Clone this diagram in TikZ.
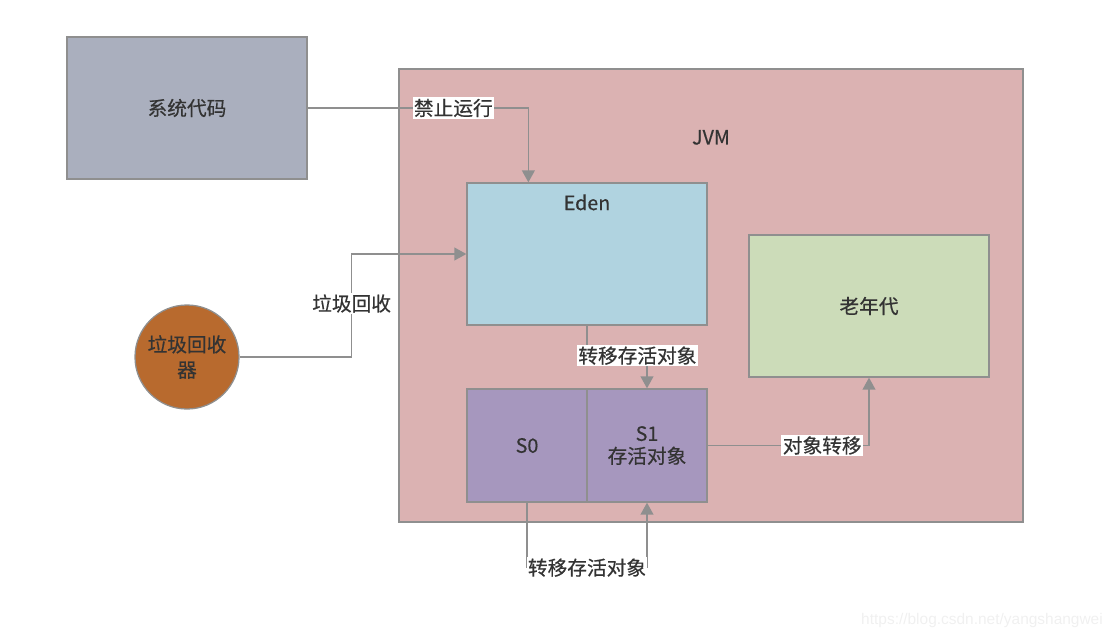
\documentclass[tikz,border=0pt]{standalone}
\usepackage{fontspec}
\setmainfont{Noto Sans CJK SC}[FakeBold=0.5]
\newfontfamily\wmfont{Liberation Sans}
\usepackage{tikz}
\usetikzlibrary{arrows.meta,positioning}
\definecolor{jvmred}{HTML}{DBB2B2}
\definecolor{sysgray}{HTML}{AAAFBE}
\definecolor{edenblue}{HTML}{B0D3E0}
\definecolor{oldgreen}{HTML}{CCDCB9}
\definecolor{survpurple}{HTML}{A697BE}
\definecolor{gcorange}{HTML}{B86A2E}
\definecolor{edgegray}{HTML}{8F8F8F}
\definecolor{txtgray}{HTML}{333333}

\begin{document}
\begin{tikzpicture}[x=0.25mm,y=-0.25mm,
  obj/.style={draw=edgegray,line width=0.9pt,align=center,text=txtgray,
    font=\fontsize{14}{18}\selectfont,minimum width=60mm,minimum height=35.5mm},
  q/.style={fill=white,text=txtgray,inner sep=1pt,font=\fontsize{14}{18}\selectfont},
  arr/.style={-{Triangle[length=3mm,width=3.2mm]},line width=1.1pt,edgegray}]
  \useasboundingbox (0,0) rectangle (1114,636);
  \node[obj,fill=sysgray] (sys) at (187,108) {系统代码};
  \node[obj,fill=jvmred,minimum width=156mm,minimum height=113.25mm,
    label={[anchor=center,yshift=-17.25mm,text=txtgray,font=\fontsize{14}{18}\selectfont]north:JVM}]
    (jvm) at (711,295.5) {};
  \node[obj,fill=edenblue,
    label={[anchor=center,yshift=-5mm,text=txtgray,font=\fontsize{14}{18}\selectfont]north:Eden}]
    (eden) at (587,254) {};
  \node[obj,fill=oldgreen] (old) at (869,306) {老年代};
  \node[obj,fill=survpurple,minimum width=30mm,minimum height=28.25mm] (s0) at (527,445.5) {S0};
  \node[obj,fill=survpurple,minimum width=30mm,minimum height=28.25mm] (s1) at (647,445.5)
    {S1\\[-2pt]存活对象};
  \node[obj,circle,fill=gcorange,minimum width=26mm,minimum height=26mm] (gc) at (187,357)
    {垃圾回收\\器};
  \node[text=black!6,font=\wmfont\fontsize{11}{13}\selectfont] (wm) at (982,620)
    {https://blog.csdn.net/yangshangwei};
  \draw[arr] (sys.east) -| node[q,pos=0.33] {禁止运行} ([xshift=15.5mm]eden.north west);
  \draw[arr] (gc.east) -- ++(28mm,0) |- node[q,pos=0.26] {垃圾回收} (eden.west);
  \draw[arr] (eden.south) -- ++(0,-7.5mm) -| node[q,pos=0.42] {转移存活对象} (s1.north);
  \draw[arr] (s1.east) -| node[q,pos=0.355] {对象转移} (old.south);
  \draw[arr] (s0.south) -- ++(0,-16.25mm) -| node[q,pos=0.25] {转移存活对象} (s1.south);
\end{tikzpicture}
\end{document}
